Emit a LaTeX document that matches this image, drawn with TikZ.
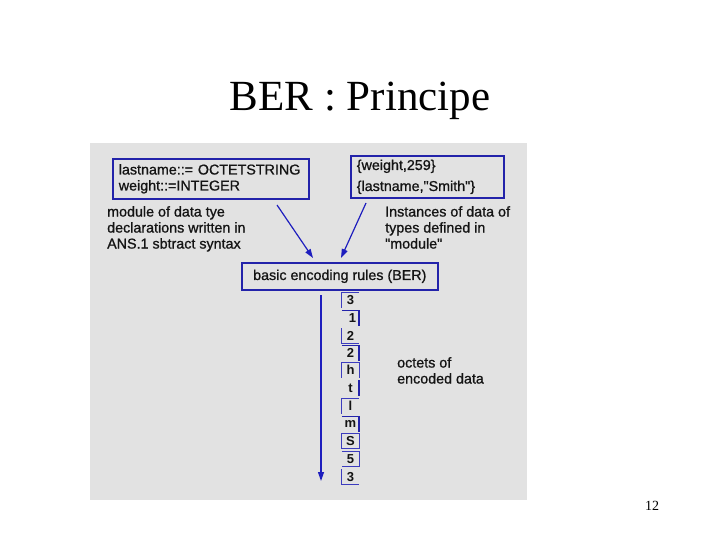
\documentclass[tikz,border=0pt]{standalone}
\usepackage{fontspec}
\setmainfont{Liberation Serif}
\setsansfont{Liberation Sans}
\newfontfamily\heavysf[FakeBold=0.9]{Liberation Sans}
\usetikzlibrary{arrows.meta}
\definecolor{bg}{RGB}{226,226,226}
\definecolor{bbox}{RGB}{35,35,170}
\definecolor{arrowblue}{RGB}{30,30,190}
\definecolor{octc}{RGB}{60,60,190}
\definecolor{txt}{RGB}{20,20,20}
\tikzset{
  bx/.style={draw=bbox, line width=1.6pt, rectangle, inner sep=0pt, text=txt,
    font=\heavysf\fontsize{14.3}{16}\selectfont, align=left},
  lbl/.style={anchor=north west, inner sep=0pt, text=txt,
    font=\heavysf\fontsize{14.3}{16}\selectfont, align=left},
  arr/.style={draw=arrowblue, line width=1.2pt, -{Triangle[length=9pt,width=6pt]}},
  octet/.style={minimum width=17pt, minimum height=15pt, inner sep=0pt, text=txt,
    font=\sffamily\bfseries\fontsize{13}{15}\selectfont},
  ob/.style={draw=octc, line width=1pt},
  obt/.style={draw=bbox, line width=1.6pt}
}
\begin{document}
\begin{tikzpicture}[x=1pt,y=-1pt]
\useasboundingbox (0,0) rectangle (720,540);
\fill[bg] (90,143) rectangle (527,500);
\node[anchor=base, inner sep=0pt, font=\fontsize{43}{48}\selectfont] (title) at (360,111) {BER : Principe};
\node[anchor=base, inner sep=0pt, font=\fontsize{14}{16}\selectfont] (page) at (652,510) {12};

\node[bx, minimum width=196pt, minimum height=40pt, text width=184pt, anchor=north west] (decl) at (112,158)
  {lastname::= OCTETSTRING\\weight::=INTEGER};
\node[bx, minimum width=153pt, minimum height=42pt, text width=141pt, anchor=north west,
  font=\heavysf\fontsize{14.3}{21}\selectfont] (inst) at (350,155)
  {\{weight,259\}\\\{lastname,\textquotedbl Smith\textquotedbl\}};
\node[bx, minimum width=196pt, minimum height=27pt, anchor=north west] (ber) at (241,262)
  {basic encoding rules (BER)};

\node[lbl] (modlbl) at (107,206) {module of data tye\\declarations written in\\ANS.1 sbtract syntax};
\node[lbl] (instlbl) at (385,206) {Instances of data of\\types defined in\\\textquotedbl module\textquotedbl};
\node[lbl] (octlbl) at (397,357) {octets of\\encoded data};

\coordinate (s1) at (277,205);
\coordinate (e1) at (313,258);
\coordinate (s2) at (366,203);
\coordinate (e2) at (341,258);
\draw[arr] (s1) -- (e1);
\draw[arr] (s2) -- (e2);

\coordinate (ds) at (321,295);
\coordinate (de) at (321,481);
\draw[arr] (ds) -- (de);

\node[octet] (o1) at (350.5,300) {3};
\node[octet] (o2) at (350.5,318) {\hspace*{4pt}1};
\node[octet] (o3) at (350.5,336) {2};
\node[octet] (o4) at (350.5,353) {2};
\node[octet] (o5) at (350.5,370) {h};
\node[octet] (o6) at (350.5,388) {t};
\node[octet] (o7) at (350.5,406) {l};
\node[octet] (o8) at (350.5,424) {m};
\node[octet] (o9) at (350.5,441) {S};
\node[octet] (o10) at (350.5,459) {5};
\node[octet] (o11) at (350.5,477) {3};

\draw[ob] (o1.south west) |- (o1.north east);
\draw[obt] (o2.north west) -| (o2.south east);
\draw[ob] (o3.north west) |- (o3.south east);
\draw[obt] (o4.north west) -| (o4.south east);
\draw[ob] (o5.south west) -- (o5.north west) -- (o5.north east) -- (o5.south east);
\draw[obt] (o6.north east) -- (o6.south east);
\draw[ob] (o7.south west) |- (o7.north east);
\draw[obt] (o8.north west) -| (o8.south east);
\draw[ob] (o9.south west) rectangle (o9.north east);
\draw[ob] (o10.north west) -- (o10.north east) -- (o10.south east) -- (o10.south west);
\draw[ob] (o11.north west) |- (o11.south east);
\end{tikzpicture}
\end{document}
